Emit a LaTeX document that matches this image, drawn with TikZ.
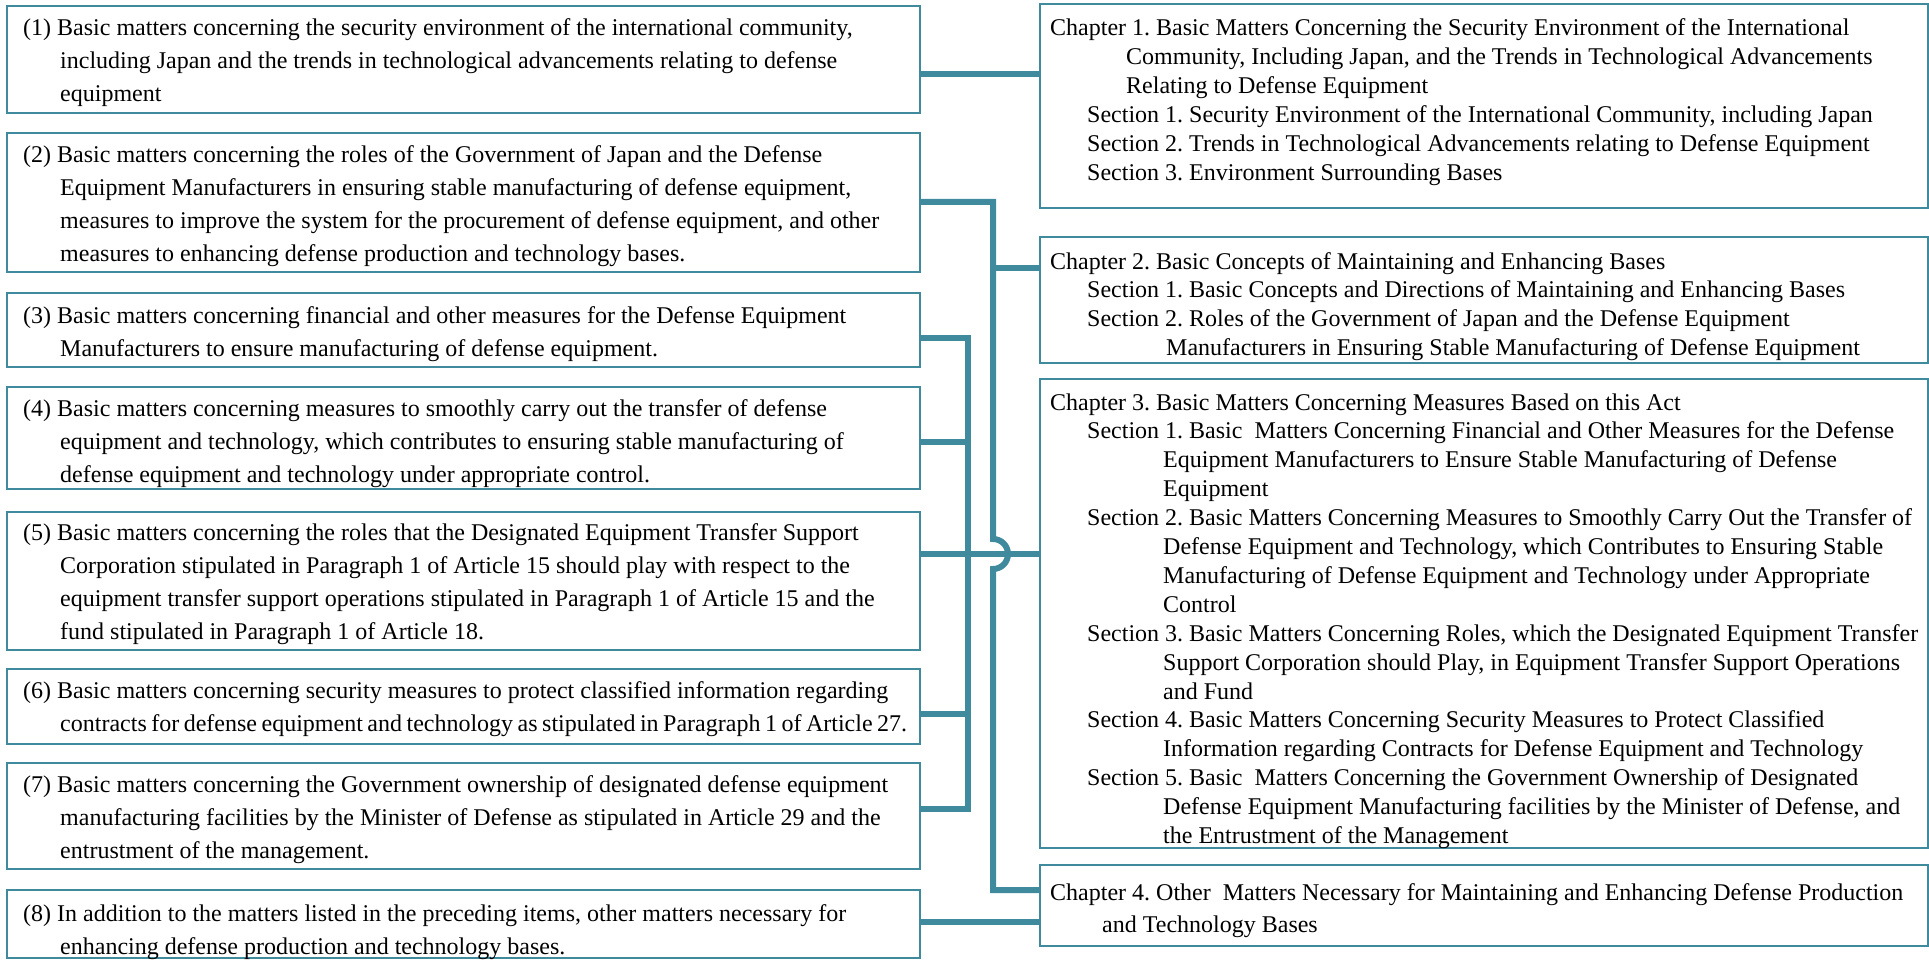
\documentclass[tikz,border=0pt]{standalone}
\usepackage{fontspec}
\setmainfont{Liberation Serif}
\frenchspacing
\definecolor{tealc}{RGB}{64,138,158}
\newcommand{\rowx}[2]{\hbox{\hspace*{#1pt}#2}}
\tikzset{
  box/.style={draw=tealc, line width=2pt, inner sep=0pt, anchor=north west},
  lbox/.style={box, minimum width=913pt},
  rbox/.style={box, minimum width=888pt},
  conn/.style={draw=tealc, line width=6pt, line join=miter},
  ltxt/.style={anchor=base west, inner sep=0pt, font=\fontsize{24}{33}\selectfont},
  rtxt/.style={anchor=base west, inner sep=0pt, font=\fontsize{24}{28.9}\selectfont},
}
\begin{document}
\begin{tikzpicture}[x=1pt,y=-1pt]
\fill[white] (0,0) rectangle (1929,960);
\useasboundingbox (0,0) rectangle (1929,960);

% left boxes
\node[lbox, minimum height=107pt] (L1) at (6,5) {};
\node[lbox, minimum height=139pt] (L2) at (6,132) {};
\node[lbox, minimum height=74pt]  (L3) at (6,292) {};
\node[lbox, minimum height=102pt] (L4) at (6,386) {};
\node[lbox, minimum height=138pt] (L5) at (6,511) {};
\node[lbox, minimum height=75pt]  (L6) at (6,668) {};
\node[lbox, minimum height=106pt] (L7) at (6,762) {};
\node[lbox, minimum height=68pt]  (L8) at (6,889) {};

% right boxes
\node[rbox, minimum height=204pt] (C1) at (1039,3) {};
\node[rbox, minimum height=126pt] (C2) at (1039,236) {};
\node[rbox, minimum height=469pt] (C3) at (1039,378) {};
\node[rbox, minimum height=81pt]  (C4) at (1039,864) {};

% left texts
\node[ltxt] (T1) at (23,36) {\vtop{%
\rowx{0}{(1) Basic matters concerning the security environment of the international community,}
\rowx{37}{including Japan and the trends in technological advancements relating to defense}
\rowx{37}{equipment}}};
\node[ltxt] (T2) at (23,163) {\vtop{%
\rowx{0}{(2) Basic matters concerning the roles of the Government of Japan and the Defense}
\rowx{37}{Equipment Manufacturers in ensuring stable manufacturing of defense equipment,}
\rowx{37}{measures to improve the system for the procurement of defense equipment, and other}
\rowx{37}{measures to enhancing defense production and technology bases.}}};
\node[ltxt] (T3) at (23,323) {\vtop{%
\rowx{0}{(3) Basic matters concerning financial and other measures for the Defense Equipment}
\rowx{37}{Manufacturers to ensure manufacturing of defense equipment.}}};
\node[ltxt] (T4) at (23,416) {\vtop{%
\rowx{0}{(4) Basic matters concerning measures to smoothly carry out the transfer of defense}
\rowx{37}{equipment and technology, which contributes to ensuring stable manufacturing of}
\rowx{37}{defense equipment and technology under appropriate control.}}};
\node[ltxt] (T5) at (23,540) {\vtop{%
\rowx{0}{(5) Basic matters concerning the roles that the Designated Equipment Transfer Support}
\rowx{37}{Corporation stipulated in Paragraph 1 of Article 15 should play with respect to the}
\rowx{37}{equipment transfer support operations stipulated in Paragraph 1 of Article 15 and the}
\rowx{37}{fund stipulated in Paragraph 1 of Article 18.}}};
\node[ltxt] (T6) at (23,698) {\vtop{%
\rowx{0}{(6) Basic matters concerning security measures to protect classified information regarding}
\rowx{37}{\spaceskip=4.5pt\relax contracts for defense equipment and technology as stipulated in Paragraph 1 of Article 27.}}};
\node[ltxt] (T7) at (23,792) {\vtop{%
\rowx{0}{(7) Basic matters concerning the Government ownership of designated defense equipment}
\rowx{37}{manufacturing facilities by the Minister of Defense as stipulated in Article 29 and the}
\rowx{37}{entrustment of the management.}}};
\node[ltxt] (T8) at (23,921) {\vtop{%
\rowx{0}{(8) In addition to the matters listed in the preceding items, other matters necessary for}
\rowx{37}{enhancing defense production and technology bases.}}};

% right texts
\node[rtxt] (R1) at (1050,36) {\vtop{%
\rowx{0}{Chapter 1. Basic Matters Concerning the Security Environment of the International}
\rowx{76}{Community, Including Japan, and the Trends in Technological Advancements}
\rowx{76}{Relating to Defense Equipment}
\rowx{37}{Section 1. Security Environment of the International Community, including Japan}
\rowx{37}{Section 2. Trends in Technological Advancements relating to Defense Equipment}
\rowx{37}{Section 3. Environment Surrounding Bases}}};
\node[rtxt] (R2) at (1050,269) {\vtop{%
\rowx{0}{Chapter 2. Basic Concepts of Maintaining and Enhancing Bases}
\rowx{37}{Section 1. Basic Concepts and Directions of Maintaining and Enhancing Bases}
\rowx{37}{Section 2. Roles of the Government of Japan and the Defense Equipment}
\rowx{116}{Manufacturers in Ensuring Stable Manufacturing of Defense Equipment}}};
\node[rtxt] (R3) at (1050,410) {\vtop{%
\rowx{0}{Chapter 3. Basic Matters Concerning Measures Based on this Act}
\rowx{37}{Section 1. Basic\ \ Matters Concerning Financial and Other Measures for the Defense}
\rowx{113}{Equipment Manufacturers to Ensure Stable Manufacturing of Defense}
\rowx{113}{Equipment}
\rowx{37}{Section 2. Basic Matters Concerning Measures to Smoothly Carry Out the Transfer of}
\rowx{113}{Defense Equipment and Technology, which Contributes to Ensuring Stable}
\rowx{113}{Manufacturing of Defense Equipment and Technology under Appropriate}
\rowx{113}{Control}
\rowx{37}{Section 3. Basic Matters Concerning Roles, which the Designated Equipment Transfer}
\rowx{113}{Support Corporation should Play, in Equipment Transfer Support Operations}
\rowx{113}{and Fund}
\rowx{37}{Section 4. Basic Matters Concerning Security Measures to Protect Classified}
\rowx{113}{Information regarding Contracts for Defense Equipment and Technology}
\rowx{37}{Section 5. Basic\ \ Matters Concerning the Government Ownership of Designated}
\rowx{113}{Defense Equipment Manufacturing facilities by the Minister of Defense, and}
\rowx{113}{the Entrustment of the Management}}};
\node[rtxt, font=\fontsize{24}{32}\selectfont] (R4) at (1050,900) {\vtop{%
\rowx{0}{Chapter 4. Other\ \ Matters Necessary for Maintaining and Enhancing Defense Production}
\rowx{52}{and Technology Bases}}};

% connectors
\coordinate (h1) at (0,74);
\draw[conn] (L1.east |- h1) -- (C1.west |- h1);

\coordinate (v2top) at (993,202);
\coordinate (hop) at (993,554);
\coordinate (v2bot) at (993,890);
\coordinate (b2) at (993,268);
\draw[conn] (L2.east |- v2top) -- (v2top) -- ([yshift=15pt]hop)
  arc[start angle=-90, end angle=90, radius=15] -- (v2bot) -- (C4.west |- v2bot);
\draw[conn] (b2) -- (C2.west |- b2);

\coordinate (v3top) at (968,338);
\coordinate (v3bot) at (968,809);
\coordinate (b4) at (968,442);
\coordinate (b5) at (968,554);
\coordinate (b6) at (968,714);
\draw[conn] (L3.east |- v3top) -- (v3top) -- (v3bot) -- (L7.east |- v3bot);
\draw[conn] (L4.east |- b4) -- (b4);
\draw[conn] (L5.east |- b5) -- (C3.west |- b5);
\draw[conn] (L6.east |- b6) -- (b6);

\coordinate (h8) at (0,922);
\draw[conn] (L8.east |- h8) -- (C4.west |- h8);
\end{tikzpicture}
\end{document}
